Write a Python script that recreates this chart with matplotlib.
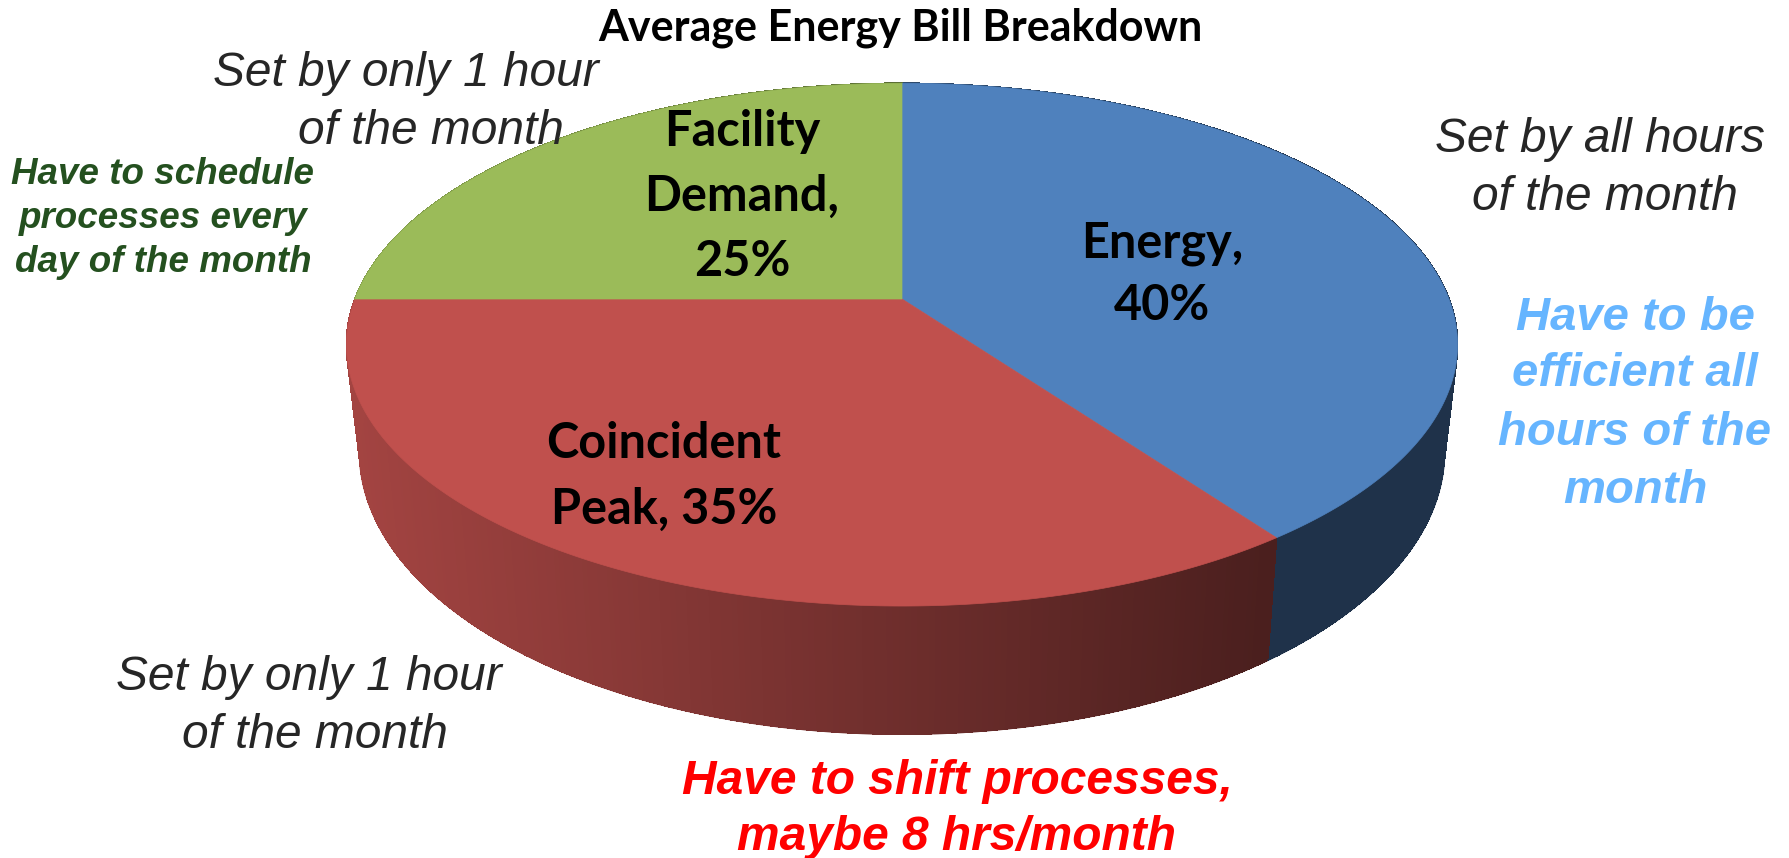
import numpy as np
import matplotlib
matplotlib.use("Agg")
import matplotlib.pyplot as plt
from matplotlib.collections import PolyCollection, LineCollection

# ---- data ----
categories = ["Energy", "Coincident Peak", "Facility Demand"]
values = [40, 35, 25]
title = "Average Energy Bill Breakdown"
notes_black = ["Set by only 1 hour", "of the month", "Set by all hours", "of the month",
               "Set by only 1 hour", "of the month"]
notes_blue = ["Have to be", "efficient all", "hours of the", "month"]
notes_red = ["Have to shift processes,", "maybe 8 hrs/month"]
notes_green = ["Have to schedule", "processes every", "day of the month"]

# ---- style / layout ----
W, H = 1790, 858
face_colors = ["#4f81bd", "#c0504d", "#9bbb59"]
CX, APEX_Y = 902, 299
A, B, K = 547, 253.4, 0.1747            # top face projection
A2, B2, Y2 = 534, 274, 402              # bottom rim projection

fig = plt.figure(figsize=(W / 100, H / 100), dpi=100, facecolor="white")
ax = fig.add_axes([0, 0, 1, 1])
ax.set_xlim(0, W)
ax.set_ylim(H, 0)
ax.axis("off")


def top_rim(t):
    u, v = np.sin(t), np.cos(t)
    d = 1 + K * v
    return CX + A * u / d, APEX_Y - B * v / d


def bottom_rim(t):
    u, v = np.sin(t), np.cos(t)
    d = 1 + K * v
    return CX + A2 * u / d, Y2 - B2 * v / d


def shade(x):
    return max(0.39, 0.85 - 0.46 * (x - 347) / (1265 - 347))


fractions = np.array(values) / sum(values)
edges = np.concatenate([[0], np.cumsum(fractions)]) * 2 * np.pi

# side wall: solid quads, smooth stroke along the lower rim, then the top face
quads, cols, segs = [], [], []
for i, col in enumerate(face_colors):
    rgb = np.array(matplotlib.colors.to_rgb(col))
    ts = np.linspace(edges[i], edges[i + 1], 240)
    for t0, t1 in zip(ts[:-1], ts[1:]):
        x0, y0 = top_rim(t0)
        x1, y1 = top_rim(t1)
        x2, y2 = bottom_rim(t1)
        x3, y3 = bottom_rim(t0)
        quads.append([(x0, y0), (x1, y1), (x2, y2), (x3, y3)])
        cols.append(tuple(rgb * shade((x0 + x1) / 2)))
        segs.append([(x3, y3), (x2, y2)])
ax.add_collection(PolyCollection(quads, facecolors=cols, edgecolors=cols, linewidths=0.6,
                                 antialiaseds=False))
ax.add_collection(LineCollection(segs, colors=cols, linewidths=1.4, antialiaseds=True))

for i, col in enumerate(face_colors):
    ts = np.linspace(edges[i], edges[i + 1], 300)
    xs, ys = top_rim(ts)
    poly = np.vstack([[CX, APEX_Y], np.column_stack([xs, ys])])
    ax.fill(poly[:, 0], poly[:, 1], facecolor=col, edgecolor=col, linewidth=0.5, zorder=3)

LATO = "Lato"
ARIAL = "Liberation Sans"


def put(x, y, s, size, color="#000000", family=LATO, weight="bold", style="normal"):
    ax.text(x, y, s, fontsize=size, color=color, family=family, weight=weight, style=style,
            ha="center", va="center", zorder=5)


put(900, 28, title, 31)

# pie labels
lab_pos = [[(1162, 244), (1162, 306)], [(664, 443), (664, 509)], [(742, 131), (742, 196), (742, 262)]]
lab_lines = [
    [f"{categories[0]},", f"{values[0]}%"],
    ["Coincident", f"Peak, {values[1]}%"],
    ["Facility", "Demand,", f"{values[2]}%"],
]
for ps, ls in zip(lab_pos, lab_lines):
    for (x, y), s in zip(ps, ls):
        put(x, y, s, 35)

black_pos = [(406, 73), (431, 131), (1600, 139), (1605, 197), (309, 678), (315, 736)]
for (x, y), s in zip(black_pos, notes_black):
    put(x, y, s, 34.5, "#262626", ARIAL, "normal", "italic")

for (x, y), s in zip([(1635, 318), (1635, 374), (1635, 433), (1635, 491)], notes_blue):
    put(x, y, s, 34, "#66b5ff", ARIAL, "bold", "italic")
for (x, y), s in zip([(957, 782), (957, 837)], notes_red):
    put(x, y, s, 34.5, "#ff0000", ARIAL, "bold", "italic")
for (x, y), s in zip([(163, 174), (163, 219), (163, 262)], notes_green):
    put(x, y, s, 26.5, "#24501f", ARIAL, "bold", "italic")

fig.savefig("out.png", dpi=100, facecolor="white")
